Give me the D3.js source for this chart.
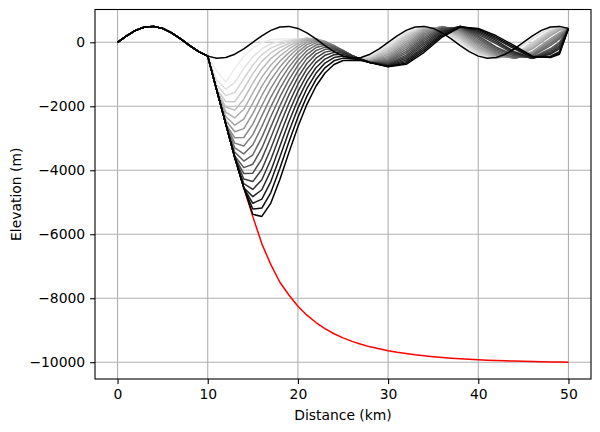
<!DOCTYPE html>
<html><head><meta charset="utf-8">
<script src="https://cdn.jsdelivr.net/npm/d3@7"></script>
<style>
body{margin:0;background:#fff}
svg{display:block}
text{font-family:"DejaVu Sans",sans-serif}
</style>
</head><body>
<svg id="chart" width="600" height="432"></svg>
<script>
// ---------------- data ----------------
const xTicks = [0, 10, 20, 30, 40, 50];
const yTicks = [-10000, -8000, -6000, -4000, -2000, 0];

// initial topography (black)
const initialDistance = [0,1,2,3,4,5,6,7,8,9,10,11,12,13,14,15,16,17,18,19,20,21,22,23,24,25,26,27,28,29,30,31,32,33,34,35,36,37,38,39,40,41,42,43,44,45,46,47,48,49,50];
const initialElevation = [0,203,372,476,497,433,294,104,-104,-294,-433,-497,-476,-372,-203,0,203,372,476,497,433,294,104,-104,-294,-433,-497,-476,-372,-203,0,203,372,476,497,433,294,104,-104,-294,-433,-497,-476,-372,-203,0,203,372,476,497,433];

// part shared by every later profile (0-10 km)
const sharedDistance = [0,1,2,3,4,5,6,7,8,9,10];
const sharedElevation = [0,203,372,476,497,433,294,104,-104,-294,-433];

// distances of the later profiles beyond 10 km
const profileDistance = [11,12,13,14,15,16,17,18,19,20,21,22,23,24,25,26,27,28,30,32,34,36,38,40,42,44,46,48,49,50];

const step01 = [-900,-1239,-819,-436,-183,-9,80,102,102,112,104,35,-101,-268,-413,-493,-492,-408,-54,335,500,335,-52,-405,-489,-250,155,457,500,433];
const step02 = [-1187,-1462,-1262,-824,-457,-201,-50,22,64,106,119,61,-70,-241,-397,-495,-512,-445,-112,289,495,372,0,-372,-497,-294,104,433,497,433];
const step03 = [-1338,-1667,-1572,-1140,-709,-388,-182,-61,21,94,129,87,-39,-211,-375,-490,-526,-478,-169,241,484,403,52,-335,-500,-372,0,372,476,433];
const step04 = [-1470,-1854,-1856,-1456,-978,-595,-333,-162,-36,69,129,105,-12,-181,-353,-482,-536,-508,-223,190,469,431,104,-294,-497,-405,-52,335,457,433];
const step05 = [-1500,-2025,-2121,-1780,-1273,-832,-509,-286,-114,28,117,112,9,-157,-332,-474,-544,-533,-278,137,447,454,155,-250,-476,-433,-104,294,433,433];
const step06 = [-1500,-2182,-2366,-2094,-1581,-1088,-708,-428,-209,-28,90,109,22,-135,-312,-464,-550,-556,-332,80,420,471,203,-203,-457,-457,-155,250,405,433];
const step07 = [-1500,-2319,-2591,-2403,-1904,-1369,-930,-594,-323,-102,50,94,27,-119,-295,-454,-552,-576,-383,21,389,483,250,-155,-433,-476,-203,203,372,433];
const step08 = [-1500,-2445,-2798,-2698,-2229,-1663,-1169,-775,-453,-188,-4,69,25,-107,-278,-442,-551,-591,-432,-39,352,490,294,-104,-405,-497,-294,104,294,433];
const step09 = [-1500,-2550,-2985,-2977,-2557,-1975,-1431,-979,-605,-297,-74,31,12,-102,-266,-432,-550,-605,-478,-100,310,491,335,-52,-372,-500,-335,52,250,433];
const step10 = [-1500,-2550,-3152,-3242,-2886,-2300,-1712,-1203,-776,-421,-159,-20,-11,-105,-257,-422,-547,-615,-521,-161,264,486,372,0,-335,-497,-372,0,203,433];
const step11 = [-1500,-2550,-3302,-3488,-3204,-2633,-2009,-1449,-966,-563,-261,-86,-46,-116,-254,-416,-543,-622,-561,-223,215,476,405,52,-294,-489,-405,-52,155,433];
const step12 = [-1500,-2550,-3433,-3713,-3516,-2972,-2321,-1709,-1173,-721,-376,-165,-91,-134,-254,-409,-537,-626,-598,-282,162,461,433,104,-250,-476,-433,-104,104,433];
const step13 = [-1500,-2550,-3553,-3918,-3811,-3310,-2645,-1988,-1399,-900,-512,-260,-151,-163,-263,-408,-533,-630,-630,-341,108,440,457,155,-203,-433,-476,-203,0,433];
const step14 = [-1500,-2550,-3600,-4105,-4090,-3643,-2978,-2283,-1644,-1097,-664,-370,-221,-202,-279,-411,-529,-631,-660,-399,50,414,476,203,-155,-405,-489,-250,-52,433];
const step15 = [-1500,-2550,-3600,-4271,-4354,-3976,-3320,-2594,-1908,-1311,-832,-496,-307,-252,-302,-418,-528,-631,-686,-454,-10,383,489,250,-52,-372,-497,-294,-104,433];
const step16 = [-1500,-2550,-3600,-4419,-4599,-4296,-3662,-2913,-2185,-1541,-1017,-636,-407,-315,-334,-431,-527,-630,-707,-507,-70,347,497,294,0,-335,-500,-335,-155,433];
const step17 = [-1500,-2550,-3600,-4548,-4825,-4609,-4013,-3251,-2485,-1794,-1224,-797,-524,-391,-377,-451,-532,-630,-727,-558,-131,307,500,335,52,-294,-497,-372,-203,433];
const step18 = [-1500,-2550,-3600,-4550,-5033,-4903,-4353,-3589,-2789,-2057,-1443,-971,-651,-477,-429,-478,-539,-630,-742,-604,-192,263,497,372,104,-203,-476,-433,-294,433];
const step19 = [-1500,-2550,-3600,-4550,-5213,-5182,-4696,-3939,-3117,-2343,-1683,-1165,-798,-579,-494,-514,-552,-632,-754,-647,-253,215,489,405,155,-155,-457,-457,-335,433];
const step20 = [-1500,-2550,-3600,-4550,-5379,-5443,-5025,-4291,-3449,-2641,-1939,-1373,-959,-696,-570,-558,-569,-636,-764,-687,-312,165,476,433,203,-104,-433,-476,-372,433];

// red curve
const redDistance = [10,11,12,13,14,15,16,17,18,19,20,21,22,23,24,25,26,27,28,29,30,31,32,33,34,35,36,37,38,39,40,41,42,43,44,45,46,47,48,49,50];
const redElevation = [-433,-1500,-2550,-3600,-4550,-5450,-6300,-6950,-7500,-7900,-8250,-8530,-8760,-8950,-9110,-9240,-9350,-9440,-9520,-9580,-9640,-9690,-9730,-9770,-9800,-9830,-9855,-9875,-9895,-9910,-9925,-9937,-9948,-9957,-9965,-9972,-9978,-9984,-9990,-9995,-10000];

const steps = [step01,step02,step03,step04,step05,step06,step07,step08,step09,step10,
               step11,step12,step13,step14,step15,step16,step17,step18,step19,step20];

// ---------------- layout ----------------
const L = 95, R = 591, T = 9.5, B = 379;
const svg = d3.select('#chart');
const x = d3.scaleLinear().domain([-2.5, 52.5]).range([L, R]);
const y = d3.scaleLinear().domain([-10525, 1025]).range([B, T]);
const fmt = v => (v < 0 ? '\u2212' + Math.abs(v) : String(v));

svg.append('defs').append('clipPath').attr('id', 'clip')
  .append('rect').attr('x', L).attr('y', T).attr('width', R - L).attr('height', B - T);

// grid
const grid = svg.append('g').attr('stroke', '#b0b0b0').attr('stroke-width', 1.1);
grid.selectAll('.gx').data(xTicks).enter().append('line')
  .attr('x1', d => x(d)).attr('x2', d => x(d)).attr('y1', T).attr('y2', B);
grid.selectAll('.gy').data(yTicks).enter().append('line')
  .attr('y1', d => y(d)).attr('y2', d => y(d)).attr('x1', L).attr('x2', R);

const plot = svg.append('g').attr('clip-path', 'url(#clip)');
const line = d3.line().x(d => x(d[0])).y(d => y(d[1]));
const pairs = (xs, ys) => xs.map((v, i) => [v, ys[i]]);

// red
plot.append('path').datum(pairs(redDistance, redElevation))
  .attr('d', line).attr('fill', 'none').attr('stroke', '#ff0000')
  .attr('stroke-width', 1.5).attr('stroke-linejoin', 'round');

// evolving profiles, light to dark
const n = steps.length;
steps.forEach((vals, k) => {
  const g = Math.round(255 * 0.93 * (1 - k / (n - 1)));
  const pts = pairs(sharedDistance, sharedElevation).concat(pairs(profileDistance, vals));
  plot.append('path').datum(pts).attr('d', line).attr('fill', 'none')
    .attr('stroke', `rgb(${g},${g},${g})`).attr('stroke-width', 1.5)
    .attr('stroke-linejoin', 'round');
});

// initial profile
plot.append('path').datum(pairs(initialDistance, initialElevation))
  .attr('d', line).attr('fill', 'none').attr('stroke', '#000')
  .attr('stroke-width', 1.5).attr('stroke-linejoin', 'round');

// frame
svg.append('rect').attr('x', L).attr('y', T).attr('width', R - L).attr('height', B - T)
  .attr('fill', 'none').attr('stroke', '#000').attr('stroke-width', 1.1);

// axes
const ax = svg.append('g').attr('transform', `translate(0,${B})`)
  .call(d3.axisBottom(x).tickValues(xTicks).tickFormat(fmt).tickSize(4.9).tickPadding(4.9));
const ay = svg.append('g').attr('transform', `translate(${L},0)`)
  .call(d3.axisLeft(y).tickValues(yTicks).tickFormat(fmt).tickSize(4.9).tickPadding(4.9));
[ax, ay].forEach(a => {
  a.select('.domain').remove();
  a.selectAll('.tick line').attr('stroke', '#000').attr('stroke-width', 1.1);
  a.selectAll('.tick text').attr('fill', '#000').style('font-size', '13.9px')
    .style('font-family', '"DejaVu Sans", sans-serif');
});

svg.append('text').attr('x', (L + R) / 2).attr('y', 419.5).attr('text-anchor', 'middle')
  .style('font-size', '13.9px').text('Distance (km)');
svg.append('text').attr('transform', `translate(20.7,${(T + B) / 2}) rotate(-90)`)
  .attr('text-anchor', 'middle').style('font-size', '13.9px').text('Elevation (m)');
</script>
</body></html>
